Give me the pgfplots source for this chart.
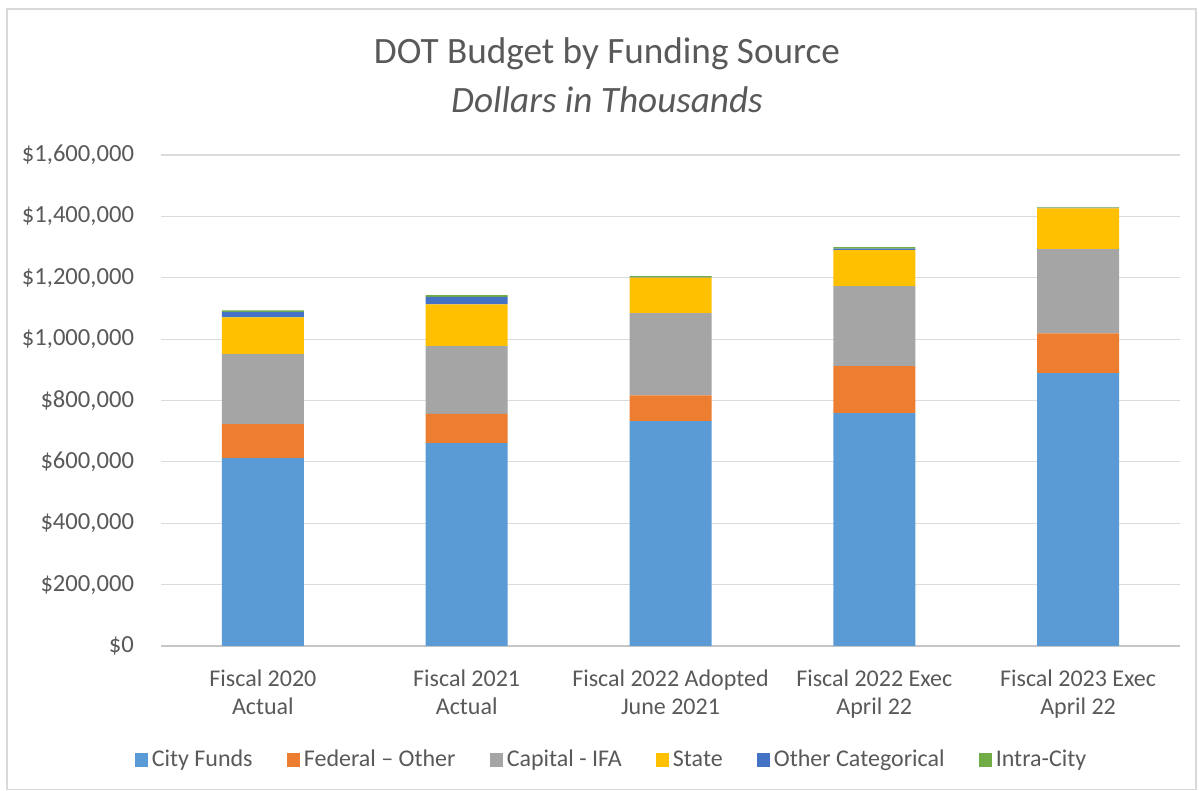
\documentclass[border=0pt]{standalone}
\usepackage{pgfplots}
\usepackage{pgfplotstable}
\pgfplotsset{compat=1.18}
\usepackage{fontspec}
\setmainfont{Carlito}
\definecolor{txt}{HTML}{595959}
\definecolor{cCity}{HTML}{5B9BD5}
\definecolor{cFed}{HTML}{ED7D31}
\definecolor{cCap}{HTML}{A5A5A5}
\definecolor{cState}{HTML}{FFC000}
\definecolor{cOther}{HTML}{4472C4}
\definecolor{cIntra}{HTML}{70AD47}
\pgfplotstableread{
x city fed cap state other intra
0 612000 111000 228000 120000 18000 5000
1 661000 95000 221000 136000 25000 5000
2 733000 84000 268000 115000 1500 3500
3 759000 153000 261000 117000 5000 5000
4 889000 130000 274000 133000 1500 1500
}\datatable
\begin{document}
\begin{tikzpicture}[x=1pt,y=1pt]
\path (0,0) rectangle (599.5,395.5);
\draw[gray!30, line width=0.8pt] (3.5,0.8) rectangle (598,391);
\node[text=txt, font=\fontsize{18.6}{22}\selectfont] at (303.5,368.5) {DOT Budget by Funding Source};
\node[text=txt, font=\fontsize{18.6}{22}\selectfont\itshape] at (303.5,345.5) {Dollars in Thousands};
\begin{axis}[
  at={(80.5pt,72.5pt)}, anchor=south west,
  scale only axis, width=509.5pt, height=245.5pt,
  ybar stacked, bar width=41pt,
  xmin=-0.5, xmax=4.5, ymin=0, ymax=1600000,
  xtick={0,1,2,3,4},
  xticklabels={{Fiscal 2020\\Actual},{Fiscal 2021\\Actual},{Fiscal 2022 Adopted\\June 2021},{Fiscal 2022 Exec\\April 22},{Fiscal 2023 Exec\\April 22}},
  xticklabel style={align=center, text=txt, font=\fontsize{12}{14}\selectfont, yshift=-8.5pt},
  ytick={0,200000,...,1600000},
  scaled y ticks=false,
  yticklabel={\$\pgfmathprintnumber[fixed,precision=0,1000 sep={,}]{\tick}},
  yticklabel style={text=txt, font=\fontsize{12.3}{14}\selectfont, /pgf/number format/assume math mode=true, xshift=-10pt},
  ymajorgrids, grid style={gray!28, line width=0.6pt},
  axis x line*=bottom, axis y line*=left,
  y axis line style={draw=none},
  x axis line style={gray!45, line width=0.6pt},
  major tick length=0pt,
  tick style={draw=none},
  legend columns=6,
  legend style={at={(0.443,-0.232)}, anchor=center, draw=none, font=\fontsize{12}{14}\selectfont, text=txt, /tikz/every even column/.append style={column sep=15pt}},
  legend image code/.code={\fill[#1] (0pt,-3.3pt) rectangle (6.6pt,3.3pt);},
]
\addplot[fill=cCity, draw=none] table[x=x,y=city]{\datatable};
\addplot[fill=cFed, draw=none] table[x=x,y=fed]{\datatable};
\addplot[fill=cCap, draw=none] table[x=x,y=cap]{\datatable};
\addplot[fill=cState, draw=none] table[x=x,y=state]{\datatable};
\addplot[fill=cOther, draw=none] table[x=x,y=other]{\datatable};
\addplot[fill=cIntra, draw=none] table[x=x,y=intra]{\datatable};
\legend{City Funds, Federal – Other, Capital - IFA, State, Other Categorical, Intra-City}
\end{axis}
\end{tikzpicture}
\end{document}
